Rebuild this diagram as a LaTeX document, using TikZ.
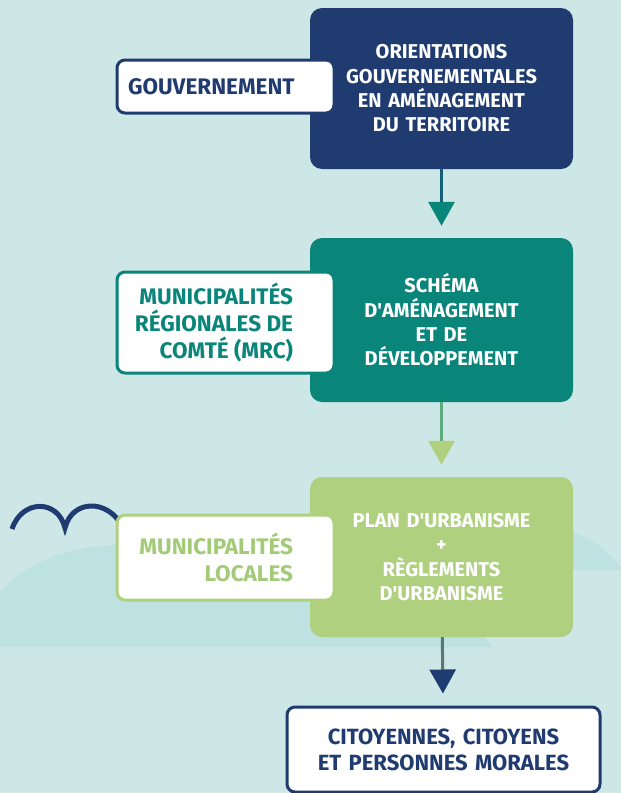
\documentclass[tikz,border=0pt]{standalone}
\usepackage{fontspec}
\setmainfont{Fira Sans}
\usepackage{tikz}
\usetikzlibrary{shapes,arrows.meta}
\definecolor{navy}{HTML}{1F3B70}
\definecolor{sea}{HTML}{0A857A}
\definecolor{leaf}{HTML}{AED07F}
\definecolor{leafdark}{HTML}{A3CB77}
\definecolor{sky}{HTML}{CCE7E6}
\definecolor{hill}{HTML}{BEE1E1}
\tikzstyle{stage}=[text=white, text width=250pt, align=center,
    minimum width=263pt, rounded corners=12pt, font=\bfseries\fontsize{20}{24.3}\selectfont]
\tikzstyle{actor}=[draw, line width=3pt, fill=white, inner xsep=11pt,
    minimum width=217pt, rounded corners=8pt, font=\bfseries\fontsize{22.5}{27}\selectfont]
\tikzstyle{flow}=[line width=3pt, shorten >=12pt]
\newcommand{\flushlines}[1]{\parbox{195pt}{\raggedleft\rightskip=30pt\relax #1}}
\newcommand{\q}{\textquotesingle}

\begin{document}
\begin{tikzpicture}[x=1pt,y=-1pt]
\fill[sky] (0,0) rectangle (621,793);
\useasboundingbox (0,0) rectangle (621,793);
% hills
\fill[hill] (0,592) .. controls (30,560) and (70,546) .. (120,545) -- (420,545) -- (492,647) -- (0,647) -- cycle;
\fill[hill] (540,528) .. controls (575,526) and (605,545) .. (621,568) -- (621,570) -- (540,570) -- cycle;
% bird
\draw[navy, line width=5pt] (12,529) .. controls (22,499) and (58,499) .. (65,528)
    .. controls (72,499) and (108,499) .. (122,526);
% Orientations
\path (441.5,88.5) node [stage, fill=navy, minimum height=161pt] (O) {ORIENTATIONS\\GOUVERNEMENTALES\\EN AMÉNAGEMENT\\DU TERRITOIRE};
% Gouvernement
\path (225.5,86.5) node [actor, draw=navy, text=navy, text width=195pt, align=left, minimum height=53pt] (G) {GOUVERNEMENT};
% Schema
\path (441.5,320) node [stage, fill=sea, minimum height=164pt] (S) {SCHÉMA\\D\q AMÉNAGEMENT\\ET DE\\DÉVELOPPEMENT};
% MRC
\path (225.5,322.5) node [actor, draw=sea, text=sea, minimum height=101pt] (M) {\flushlines{MUNICIPALITÉS\\RÉGIONALES DE\\COMTÉ (MRC)}};
% Plan
\path (441.5,557) node [stage, fill=leaf, minimum height=160pt] (P) {PLAN D\q URBANISME\\+\\RÈGLEMENTS\\D\q URBANISME};
% Locales
\path (225.5,557.5) node [actor, draw=leaf, text=leafdark, minimum height=85pt] (L) {\flushlines{MUNICIPALITÉS\\LOCALES}};
% Citoyens
\path (443.5,749.5) node [actor, draw=navy, text=navy, text width=290pt, align=center, minimum width=313pt, minimum height=85pt,
    font=\bfseries\fontsize{22}{26}\selectfont] (C) {CITOYENNES, CITOYENS\\ET PERSONNES MORALES};
% arrows
\draw [flow, navy!50!sea, -{Triangle[width=26pt,length=24pt,sea]}] (O) -- (S);
\draw [flow, sea!50!leaf, -{Triangle[width=26pt,length=24pt,leaf]}] (S) -- (P);
\draw [flow, leaf!40!navy, -{Triangle[width=26pt,length=24pt,navy]}] (P) -- (C);
\end{tikzpicture}
\end{document}
